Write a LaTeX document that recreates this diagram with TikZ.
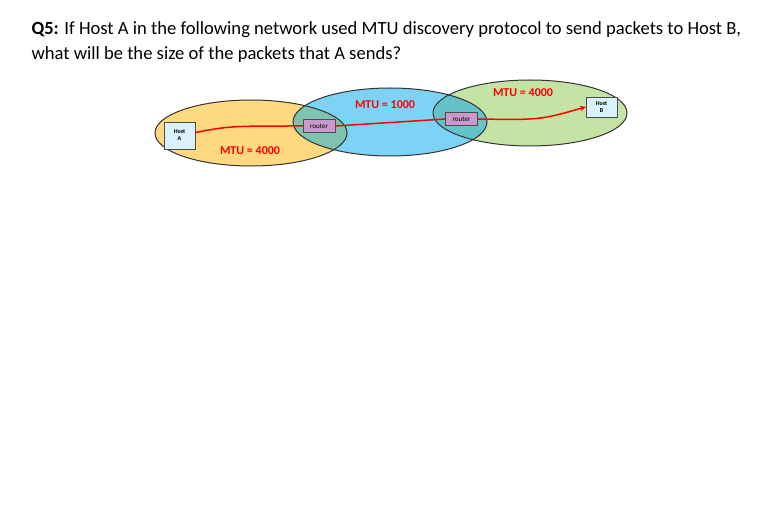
\documentclass[tikz,border=0pt]{standalone}
\usepackage{fontspec}
\setmainfont{Carlito}
\definecolor{cyel}{RGB}{255,217,127}
\definecolor{cblu}{RGB}{125,211,245}
\definecolor{cgrn}{RGB}{197,227,165}
\definecolor{ctl1}{RGB}{125,195,175}
\definecolor{ctl2}{RGB}{100,195,200}
\begin{document}
\begin{tikzpicture}[x=1pt,y=-1pt,
 box/.style={draw=black!70,fill=#1,minimum width=31pt,minimum height=20pt,inner sep=0pt,font=\fontsize{6}{7}\selectfont\bfseries,align=center},
 rtr/.style={draw=black!70,fill=violet!40,minimum width=32pt,minimum height=13pt,inner sep=0pt,font=\fontsize{7}{8}\selectfont},
 mtu/.style={text=red,font=\fontsize{12}{14}\selectfont\bfseries},
 net/.style={draw=black!80,line width=1pt}]
\useasboundingbox (0,0) rectangle (776,518);
\node[anchor=west,font=\fontsize{18.6}{22}\selectfont] (q1) at (28,30) {\textbf{Q5:} If Host A in the following network used MTU discovery protocol to send packets to Host B,};
\node[anchor=west,font=\fontsize{18.6}{22}\selectfont] (q2) at (28,55) {what will be the size of the packets that A sends?};
\fill[cyel] (251,133) ellipse (96 and 33);
\fill[cblu] (390,122) ellipse (97 and 34);
\fill[cgrn] (530,113) ellipse (97 and 33);
\begin{scope}\clip (251,133) ellipse (96 and 33);\fill[ctl1] (390,122) ellipse (97 and 34);\end{scope}
\begin{scope}\clip (390,122) ellipse (97 and 34);\fill[ctl2] (530,113) ellipse (97 and 33);\end{scope}
\draw[net] (251,133) ellipse (96 and 33);
\draw[net] (390,122) ellipse (97 and 34);
\draw[net] (530,113) ellipse (97 and 33);
\node[box=cyan!15,minimum height=27pt] (A) at (179.5,135.5) {Host\\A};
\node[rtr] (r1) at (319,126) {router};
\node[rtr] (r2) at (461.5,119) {router};
\node[box=cyan!15] (B) at (601.5,107) {Host\\B};
\draw[red,line width=1.5pt] (A.east) ++(0,-3) coordinate (a0) .. controls (230,126) .. (r1.west);
\draw[red,line width=1.5pt] (r1.east) -- (r2.west);
\draw[red,line width=1.5pt,-stealth] (r2.east) .. controls (540,120) .. (B.west);
\node[mtu] (m1) at (250,151) {MTU = 4000};
\node[mtu] (m2) at (385,105) {MTU = 1000};
\node[mtu] (m3) at (523,93) {MTU = 4000};
\end{tikzpicture}
\end{document}
